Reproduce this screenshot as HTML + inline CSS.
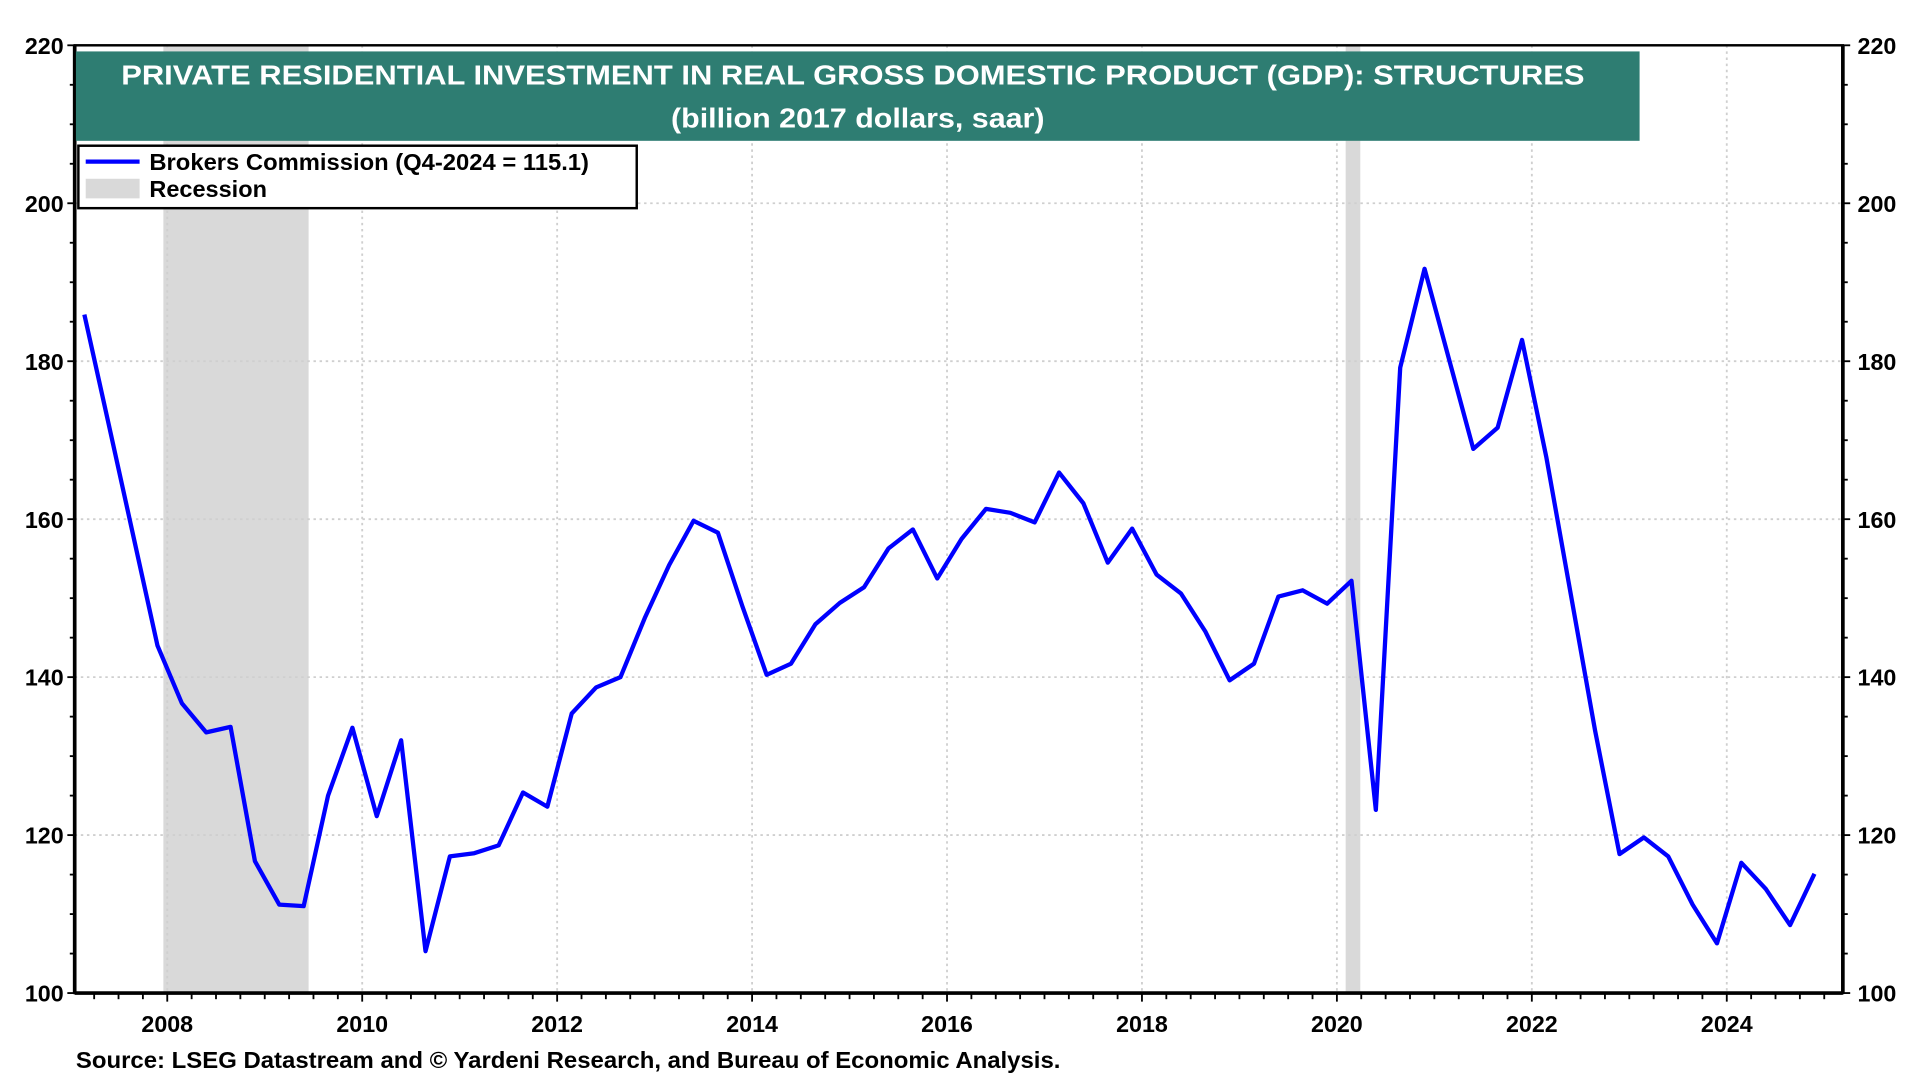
<!DOCTYPE html>
<html><head><meta charset="utf-8"><style>
html,body{margin:0;padding:0;background:#fff}
svg{display:block}
text{font-family:"Liberation Sans",Arial,sans-serif;font-weight:bold}
</style></head><body>
<svg id="chart" width="1920" height="1080" viewBox="0 0 1568 882" xmlns="http://www.w3.org/2000/svg">
<rect width="1568" height="882" fill="#fff"/>
<g id="recessions"></g>
<g id="grid"></g>
<g id="axes"></g>
<polyline id="series" fill="none" stroke="#0000ff" stroke-width="3.5" stroke-linejoin="round"/>
<rect x="62" y="42" width="1277" height="73" fill="#2e7d72"/>
<text x="99" y="69" fill="#fff" font-size="23" textLength="1195" lengthAdjust="spacingAndGlyphs">PRIVATE RESIDENTIAL INVESTMENT IN REAL GROSS DOMESTIC PRODUCT (GDP): STRUCTURES</text>
<text x="548" y="104" fill="#fff" font-size="23" textLength="305" lengthAdjust="spacingAndGlyphs">(billion 2017 dollars, saar)</text>
<g>
<rect x="64" y="119" width="456" height="51" fill="#fff" stroke="#000" stroke-width="2"/>
<line x1="70" y1="132" x2="114" y2="132" stroke="#0000ff" stroke-width="3.5"/>
<text x="122" y="139" font-size="19" textLength="359" lengthAdjust="spacingAndGlyphs">Brokers Commission (Q4-2024 = 115.1)</text>
<rect x="70" y="146" width="44" height="16" fill="#d9d9d9"/>
<text x="122" y="161" font-size="19" textLength="96" lengthAdjust="spacingAndGlyphs">Recession</text>
</g>
<text x="62" y="872" font-size="19" textLength="804" lengthAdjust="spacingAndGlyphs">Source: LSEG Datastream and © Yardeni Research, and Bureau of Economic Analysis.</text>
</svg>
<script>
const startYear = 2007;
const values = [185.9,172,158,144,
136.7,133,133.7,116.7,
111.2,111,125,133.6,
122.4,132,105.3,117.3,
117.7,118.7,125.4,123.6,
135.4,138.7,140,147.5,
154.2,159.8,158.3,149,
140.3,141.7,146.7,149.4,
151.4,156.3,158.7,152.5,
157.5,161.3,160.8,159.6,
165.9,162,154.5,158.8,
153,150.6,145.8,139.6,
141.7,150.2,151,149.3,
152.2,123.2,179.2,191.7,
180.3,168.9,171.6,182.7,
167.8,150.5,133.2,117.6,
119.7,117.3,111.2,106.3,
116.5,113.2,108.6,115.1];
const recStart = [2007.96, 2020.09];
const recEnd = [2009.45, 2020.24];
const yTicks = [100,120,140,160,180,200,220];
const xTickYears = [2008,2010,2012,2014,2016,2018,2020,2022,2024];

const L=61,R=1505,T=37,B=811;
const yMin=100,yMax=220;
const pxPerYear=79.6;
function xs(y){return 773.4+(y-2016)*pxPerYear;}
const x1Year=2016+(R-773.4)/pxPerYear;
function ys(v){return B-(v-yMin)/(yMax-yMin)*(B-T);}
const NS="http://www.w3.org/2000/svg";
function mk(tag,attrs,parent){const e=document.createElementNS(NS,tag);for(const k in attrs)e.setAttribute(k,attrs[k]);parent.appendChild(e);return e;}

const rg=document.getElementById('recessions');
for(let i=0;i<recStart.length;i++){
  const r=mk('rect',{x:xs(recStart[i]),y:T,width:xs(recEnd[i])-xs(recStart[i]),height:B-T,fill:'#d9d9d9'},rg);
  
  
}
const g=document.getElementById('grid');
yTicks.forEach(v=>{
  if(v===yMin||v===yMax)return;
  const l=mk('line',{x1:L,x2:R,y1:ys(v),y2:ys(v),stroke:'#cfcfcf','stroke-width':1.5,'stroke-dasharray':'2,3'},g);
  
  
});
xTickYears.forEach(yr=>{
  const l=mk('line',{x1:xs(yr),x2:xs(yr),y1:T,y2:B,stroke:'#cfcfcf','stroke-width':1.5,'stroke-dasharray':'2,3'},g);
  
  
});
const a=document.getElementById('axes');
const fr=mk('rect',{x:L,y:T,width:R-L,height:B-T,fill:'none',stroke:'#000','stroke-width':2},a);


mk('line',{x1:L,x2:L,y1:T,y2:B,stroke:'#000','stroke-width':3},a);
mk('line',{x1:R,x2:R,y1:T,y2:B,stroke:'#000','stroke-width':3},a);
mk('line',{x1:L,x2:R,y1:B,y2:B,stroke:'#000','stroke-width':3},a);
for(let v=yMin;v<=yMax;v+=5){
  const len=(v%20===0)?6:4;
  mk('line',{x1:L-len,x2:L,y1:ys(v),y2:ys(v),stroke:'#000','stroke-width':1.5},a);
  mk('line',{x1:R,x2:R+len,y1:ys(v),y2:ys(v),stroke:'#000','stroke-width':1.5},a);
}
yTicks.forEach(v=>{
  const t1=mk('text',{x:L-9,y:ys(v)+7,'font-size':19,'text-anchor':'end'},a);t1.textContent=v;
  
  
  const t2=mk('text',{x:R+12,y:ys(v)+7,'font-size':19},a);t2.textContent=v;
  
  
});
for(let q=2007.25;q<x1Year;q+=0.25){
  const major=Math.abs(q-Math.round(q))<1e-6&&Math.round(q)%2===0;
  mk('line',{x1:xs(q),x2:xs(q),y1:B,y2:B+(major?7:5),stroke:'#000','stroke-width':1.5},a);
}
xTickYears.forEach(yr=>{
  const t=mk('text',{x:xs(yr),y:B+32,'font-size':19,'text-anchor':'middle'},a);t.textContent=yr;
  
  
});
document.getElementById('series').setAttribute('points',values.map((v,i)=>xs(startYear+0.15+i*0.25).toFixed(1)+','+ys(v).toFixed(1)).join(' '));
</script>
</body></html>
